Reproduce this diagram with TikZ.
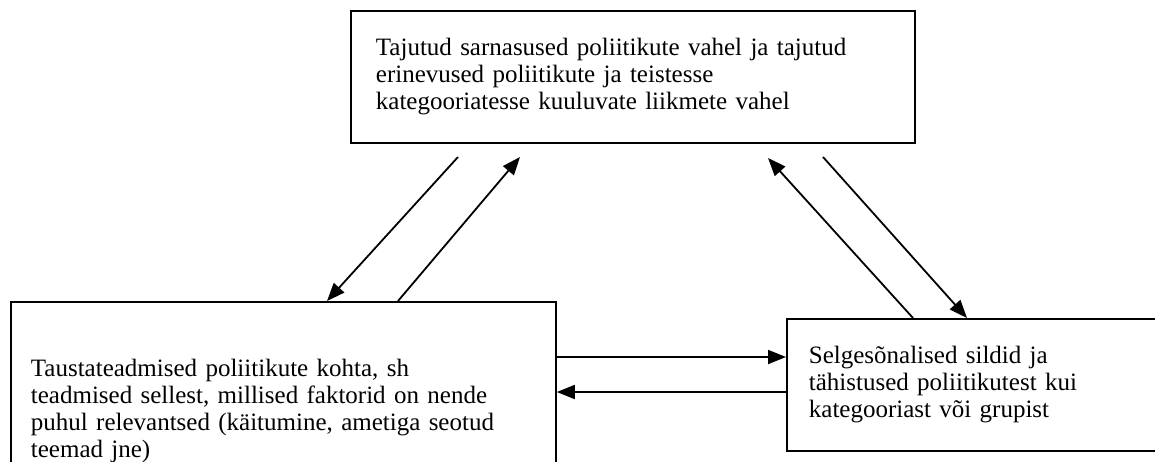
\documentclass[tikz,border=0pt]{standalone}
\usepackage{fontspec}
\setmainfont{Liberation Serif}
\usetikzlibrary{arrows.meta,calc}
\tikzset{
  boxnode/.style={draw=black, line width=1.8pt, rectangle, anchor=north west,
    align=left, font=\fontsize{25}{27}\selectfont, inner ysep=0pt},
  conn/.style={line width=1.8pt, -{Triangle[length=18pt,width=14pt]}}
}
\begin{document}
\begin{tikzpicture}[x=1pt,y=-1pt]
\useasboundingbox (0,0) rectangle (1155,461);
\clip (0,0) rectangle (1155,461);
\node[boxnode, inner xsep=25pt, text width=514pt, minimum height=132pt] (T) at (350,10)
  {Tajutud sarnasused poliitikute vahel ja tajutud\\erinevused poliitikute ja teistesse\\kategooriatesse kuuluvate liikmete vahel};
\node[boxnode, inner xsep=20pt, text width=505pt, minimum height=218pt] (L) at (10,301)
  {Taustateadmised poliitikute kohta, sh\\teadmised sellest, millised faktorid on nende\\puhul relevantsed (käitumine, ametiga seotud\\teemad jne)};
\node[boxnode, inner xsep=22pt, text width=340pt, minimum height=132pt] (R) at (786,318)
  {Selgesõnalised sildid ja\\tähistused poliitikutest kui\\kategooriast või grupist};
\coordinate (a1) at (458,157);
\coordinate (a2) at (520,157);
\coordinate (a3) at (768,158);
\coordinate (a4) at (823,157);
\draw[conn] (a1) -- ($(L.north west)+(317,0)$);
\draw[conn] ($(L.north west)+(388,0)$) -- (a2);
\draw[conn] ($(R.north west)+(127,0)$) -- (a3);
\draw[conn] (a4) -- ($(R.north west)+(181,0)$);
\draw[conn] ($(L.north east)+(0,56)$) -- ($(R.north west)+(0,39)$);
\draw[conn] ($(R.north west)+(0,74)$) -- ($(L.north east)+(0,91)$);
\end{tikzpicture}
\end{document}
